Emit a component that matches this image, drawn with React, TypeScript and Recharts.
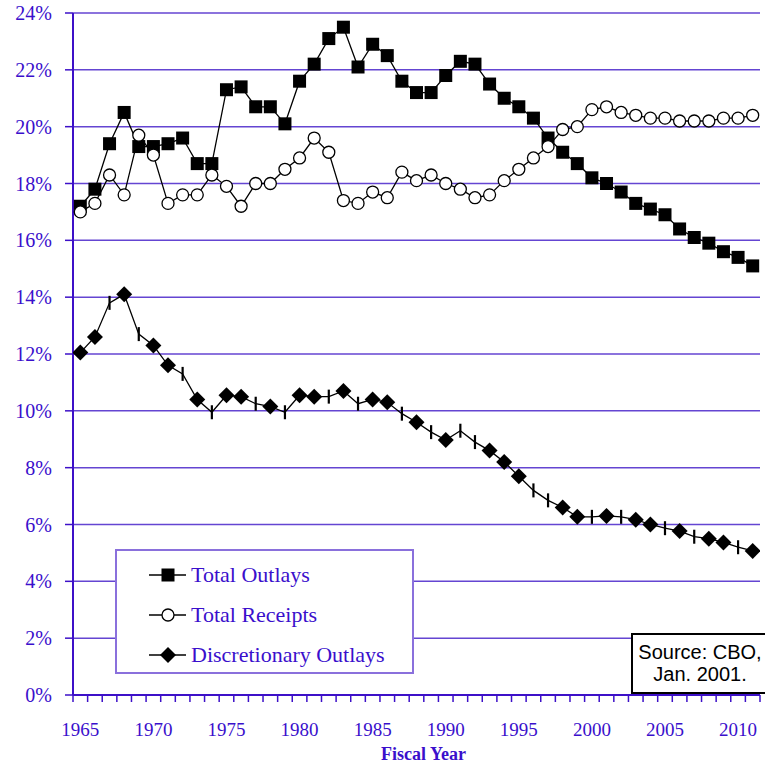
import React from 'react';
import { LineChart, Line, XAxis, YAxis, CartesianGrid, Legend, Label } from 'recharts';

const years = [
  1965, 1966, 1967, 1968, 1969, 1970, 1971, 1972, 1973, 1974,
  1975, 1976, 1977, 1978, 1979, 1980, 1981, 1982, 1983, 1984,
  1985, 1986, 1987, 1988, 1989, 1990, 1991, 1992, 1993, 1994,
  1995, 1996, 1997, 1998, 1999, 2000, 2001, 2002, 2003, 2004,
  2005, 2006, 2007, 2008, 2009, 2010, 2011,
];

const totalOutlays = [
  17.2, 17.8, 19.4, 20.5, 19.3, 19.3, 19.4, 19.6, 18.7, 18.7,
  21.3, 21.4, 20.7, 20.7, 20.1, 21.6, 22.2, 23.1, 23.5, 22.1,
  22.9, 22.5, 21.6, 21.2, 21.2, 21.8, 22.3, 22.2, 21.5, 21.0,
  20.7, 20.3, 19.6, 19.1, 18.7, 18.2, 18.0, 17.7, 17.3, 17.1,
  16.9, 16.4, 16.1, 15.9, 15.6, 15.4, 15.1,
];

const totalReceipts = [
  17.0, 17.3, 18.3, 17.6, 19.7, 19.0, 17.3, 17.6, 17.6, 18.3,
  17.9, 17.2, 18.0, 18.0, 18.5, 18.9, 19.6, 19.1, 17.4, 17.3,
  17.7, 17.5, 18.4, 18.1, 18.3, 18.0, 17.8, 17.5, 17.6, 18.1,
  18.5, 18.9, 19.3, 19.9, 20.0, 20.6, 20.7, 20.5, 20.4, 20.3,
  20.3, 20.2, 20.2, 20.2, 20.3, 20.3, 20.4,
];

const discretionaryOutlays = [
  12.05, 12.6, 13.8, 14.1, 12.7, 12.3, 11.6, 11.3, 10.4, 9.95,
  10.55, 10.5, 10.25, 10.15, 9.95, 10.55, 10.5, 10.5, 10.7, 10.25,
  10.4, 10.3, 9.9, 9.6, 9.25, 8.97, 9.3, 8.9, 8.6, 8.2,
  7.7, 7.2, 6.85, 6.6, 6.27, 6.27, 6.3, 6.27, 6.17, 6.0,
  5.87, 5.77, 5.57, 5.5, 5.37, 5.2, 5.07,
];

// D = diamond marker, T = tick marker (as drawn in the original)
const discretionaryMarkers = [
  'D', 'D', 'T', 'D', 'T', 'D', 'D', 'T', 'D', 'T',
  'D', 'D', 'T', 'D', 'T', 'D', 'D', 'T', 'D', 'T',
  'D', 'D', 'T', 'D', 'T', 'D', 'T', 'T', 'D', 'D',
  'D', 'T', 'T', 'D', 'D', 'T', 'D', 'T', 'D', 'D',
  'T', 'D', 'T', 'D', 'D', 'T', 'D',
];

const yTicks = [0, 2, 4, 6, 8, 10, 12, 14, 16, 18, 20, 22, 24];
const xLabelTicks = [1965, 1970, 1975, 1980, 1985, 1990, 1995, 2000, 2005, 2010];
const xBoundaryTicks = [...years.map((y) => y - 0.5), years[years.length - 1] + 0.5];

const seriesOrder = ['outlays', 'receipts', 'discretionary'];
const seriesNames: Record<string, string> = {
  outlays: 'Total Outlays',
  receipts: 'Total Receipts',
  discretionary: 'Discretionary Outlays',
};

const sourceLines = ['Source: CBO,', 'Jan. 2001.'];
const xAxisTitle = 'Fiscal Year';

const data = years.map((year, i) => ({
  year,
  outlays: totalOutlays[i],
  receipts: totalReceipts[i],
  discretionary: discretionaryOutlays[i],
  marker: discretionaryMarkers[i],
}));

const PURPLE_TEXT = '#3a0fcc';
const PURPLE_AXIS = '#3d10c8';
const PURPLE_GRID = '#6445d2';
const SERIF = '"Liberation Serif", "Times New Roman", serif';
const SANS = '"Liberation Sans", Arial, sans-serif';

const SquareDot = (props: any) => {
  const { cx, cy, index } = props;
  if (cx == null || cy == null) return <g key={`s-${index}`} />;
  return <rect key={`s-${index}`} x={cx - 6.5} y={cy - 6.5} width={13} height={13} fill="#000" />;
};

const CircleDot = (props: any) => {
  const { cx, cy, index } = props;
  if (cx == null || cy == null) return <g key={`c-${index}`} />;
  return <circle key={`c-${index}`} cx={cx} cy={cy} r={6} fill="#fff" stroke="#000" strokeWidth={1.3} />;
};

const DiscDot = (props: any) => {
  const { cx, cy, index, payload } = props;
  if (cx == null || cy == null) return <g key={`d-${index}`} />;
  if (payload && payload.marker === 'T') {
    return <line key={`d-${index}`} x1={cx} x2={cx} y1={cy - 7} y2={cy + 7} stroke="#000" strokeWidth={2.2} />;
  }
  const r = 8;
  return (
    <polygon
      key={`d-${index}`}
      points={`${cx},${cy - r} ${cx + r},${cy} ${cx},${cy + r} ${cx - r},${cy}`}
      fill="#000"
    />
  );
};

const LegendIcon = ({ kind }: { kind: string }) => (
  <svg width={38} height={20} style={{ display: 'block' }}>
    <line x1={0} x2={37} y1={10} y2={10} stroke="#000" strokeWidth={1.3} />
    {kind === 'outlays' && <rect x={12.5} y={3.5} width={13} height={13} fill="#000" />}
    {kind === 'receipts' && <circle cx={19} cy={10} r={6} fill="#fff" stroke="#000" strokeWidth={1.3} />}
    {kind === 'discretionary' && <polygon points="19,2 27,10 19,18 11,10" fill="#000" />}
  </svg>
);

const renderLegend = (props: any) => {
  const payload = [...(props.payload || [])].sort(
    (a: any, b: any) => seriesOrder.indexOf(a.dataKey) - seriesOrder.indexOf(b.dataKey)
  );
  return (
    <div
      style={{
        width: 299,
        height: 125,
        boxSizing: 'border-box',
        border: `2px solid #8a70dc`,
        background: '#fff',
        paddingTop: 4,
      }}
    >
      {payload.map((entry: any) => (
        <div
          key={entry.dataKey}
          style={{ display: 'flex', alignItems: 'center', height: 40, paddingLeft: 32 }}
        >
          <LegendIcon kind={entry.dataKey} />
          <span
            style={{
              marginLeft: 4,
              fontFamily: SERIF,
              fontSize: 22,
              color: PURPLE_TEXT,
              lineHeight: '24px',
            }}
          >
            {entry.value}
          </span>
        </div>
      ))}
    </div>
  );
};

// tick mark only, drawn at the position Recharts gives each boundary tick
const BoundaryTick = (props: any) => {
  const { x, y } = props;
  return <line x1={x} x2={x} y1={y} y2={y + 7} stroke={PURPLE_AXIS} strokeWidth={1.5} />;
};

const YTick = (props: any) => {
  const { x, y, payload } = props;
  return (
    <text
      x={x}
      y={y}
      dy={7}
      textAnchor="end"
      fill={PURPLE_TEXT}
      fontSize={20}
      fontFamily={SERIF}
    >
      {`${payload.value}%`}
    </text>
  );
};

const XLabelTick = (props: any) => {
  const { x, y, payload } = props;
  return (
    <text x={x} y={y} dy={14} textAnchor="middle" fill={PURPLE_TEXT} fontSize={19} fontFamily={SERIF}>
      {payload.value}
    </text>
  );
};

export default function App() {
  return (
    <div style={{ position: 'absolute', left: 0, top: 0, width: 765, height: 765, background: '#fff', overflow: 'hidden' }}>
      <LineChart
        width={765}
        height={765}
        data={data}
        margin={{ top: 13, right: 5, left: 0, bottom: 5 }}
        style={{ fontFamily: SERIF }}
      >
        <CartesianGrid
          xAxisId="a"
          vertical={false}
          stroke={PURPLE_GRID}
          strokeWidth={1.5}
        />
        <XAxis
          xAxisId="a"
          dataKey="year"
          type="number"
          domain={[1964.5, 2011.5]}
          ticks={xBoundaryTicks}
          interval={0}
          tick={BoundaryTick}
          tickLine={false}
          tickSize={0}
          tickMargin={0}
          axisLine={{ stroke: PURPLE_AXIS, strokeWidth: 2 }}
          height={1}
          allowDataOverflow
        />
        <XAxis
          xAxisId="b"
          dataKey="year"
          type="number"
          domain={[1964.5, 2011.5]}
          ticks={xLabelTicks}
          interval={0}
          tickLine={false}
          axisLine={false}
          tickSize={0}
          tickMargin={26}
          height={64}
          tick={XLabelTick}
          allowDataOverflow
        >
          <Label
            value={xAxisTitle}
            position="insideBottom"
            offset={0}
            dx={7}
            fill={PURPLE_TEXT}
            fontSize={18}
            fontWeight="bold"
            fontFamily={SERIF}
          />
        </XAxis>
        <YAxis
          type="number"
          domain={[0, 24]}
          ticks={yTicks}
          interval={0}
          width={73}
          tickSize={8}
          tickMargin={13}
          tick={YTick}
          tickLine={{ stroke: PURPLE_AXIS, strokeWidth: 1.5 }}
          axisLine={{ stroke: PURPLE_AXIS, strokeWidth: 2 }}
        />
        <Legend
          content={renderLegend}
          layout="horizontal"
          verticalAlign="middle"
          align="center"
          wrapperStyle={{ left: 115, top: 549, width: 299, height: 125 }}
        />
        <Line
          xAxisId="a"
          type="linear"
          dataKey="outlays"
          name={seriesNames.outlays}
          stroke="#000"
          strokeWidth={1.3}
          dot={SquareDot}
          activeDot={false}
          isAnimationActive={false}
        />
        <Line
          xAxisId="a"
          type="linear"
          dataKey="receipts"
          name={seriesNames.receipts}
          stroke="#000"
          strokeWidth={1.3}
          dot={CircleDot}
          activeDot={false}
          isAnimationActive={false}
        />
        <Line
          xAxisId="a"
          type="linear"
          dataKey="discretionary"
          name={seriesNames.discretionary}
          stroke="#000"
          strokeWidth={1.3}
          dot={DiscDot}
          activeDot={false}
          isAnimationActive={false}
        />
      </LineChart>
      <div
        style={{
          position: 'absolute',
          left: 631,
          top: 633,
          width: 150,
          height: 61,
          boxSizing: 'border-box',
          border: '2.5px solid #000',
          background: '#fff',
          fontFamily: SANS,
          fontSize: 20,
          lineHeight: '22px',
          color: '#000',
          textAlign: 'center',
          paddingTop: 6,
          paddingRight: 12,
        }}
      >
        {sourceLines.map((line) => (
          <div key={line}>{line}</div>
        ))}
      </div>
    </div>
  );
}
